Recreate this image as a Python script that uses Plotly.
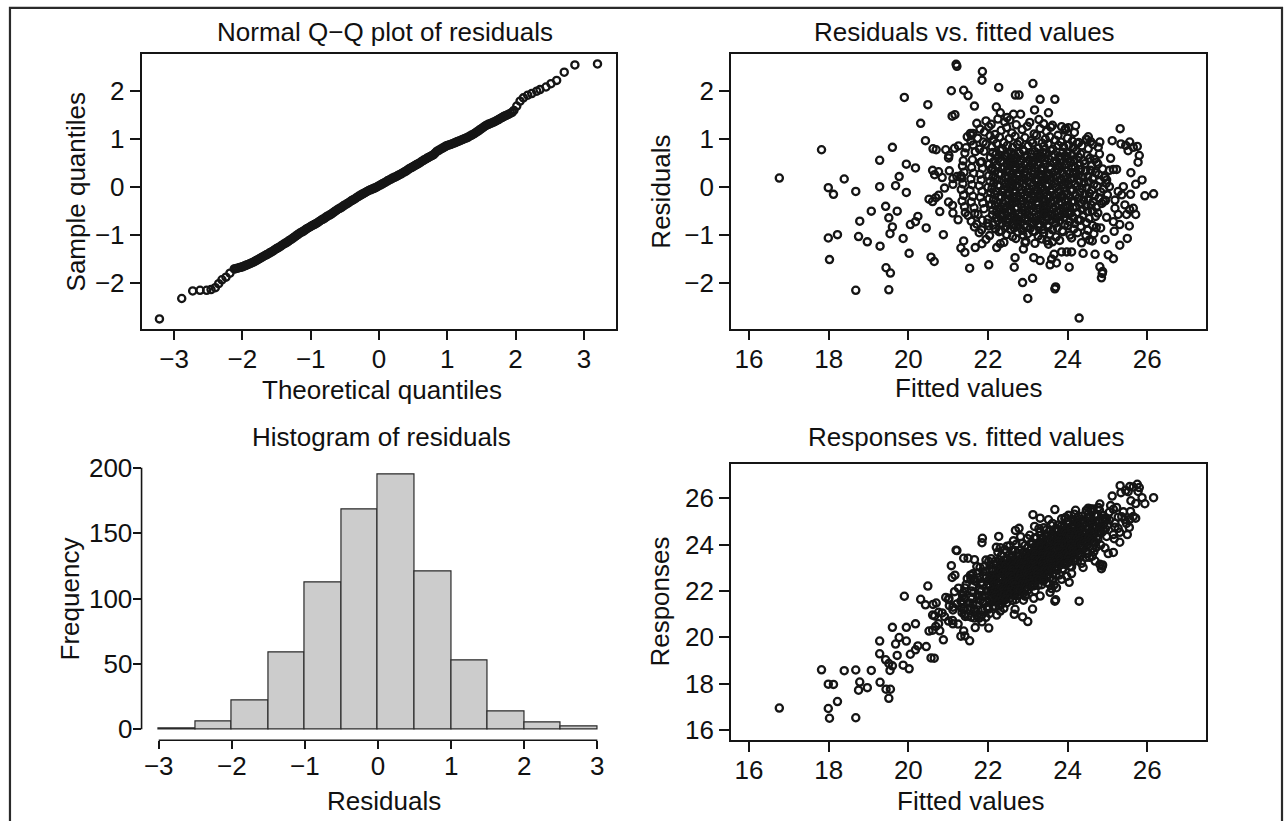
import plotly.graph_objects as go

W, H = 1287, 821

# ---------------- data ----------------
# Normal Q-Q plot: theoretical quantile / sample quantile
qq_low_x = [-3.215, -2.889, -2.728, -2.621, -2.524, -2.460, -2.397, -2.348, -2.300, -2.241, -2.183, -2.120]
qq_low_y = [-2.747, -2.321, -2.164, -2.150, -2.150, -2.136, -2.095, -2.013, -1.931, -1.876, -1.794, -1.704]

qq_mid_x = [
    -2.100, -2.075, -2.050, -2.025, -2.000, -1.975, -1.950, -1.925, -1.900, -1.875,
    -1.850, -1.825, -1.800, -1.775, -1.750, -1.725, -1.700, -1.675, -1.650, -1.625,
    -1.600, -1.575, -1.550, -1.525, -1.500, -1.475, -1.450, -1.425, -1.400, -1.375,
    -1.350, -1.325, -1.300, -1.275, -1.250, -1.225, -1.200, -1.175, -1.150, -1.125,
    -1.100, -1.075, -1.050, -1.025, -1.000, -0.975, -0.950, -0.925, -0.900, -0.875,
    -0.850, -0.825, -0.800, -0.775, -0.750, -0.725, -0.700, -0.675, -0.650, -0.625,
    -0.600, -0.575, -0.550, -0.525, -0.500, -0.475, -0.450, -0.425, -0.400, -0.375,
    -0.350, -0.325, -0.300, -0.275, -0.250, -0.225, -0.200, -0.175, -0.150, -0.125,
    -0.100, -0.075, -0.050, -0.025, 0.000, 0.025, 0.050, 0.075, 0.100, 0.125,
    0.150, 0.175, 0.200, 0.225, 0.250, 0.275, 0.300, 0.325, 0.350, 0.375,
    0.400, 0.425, 0.450, 0.475, 0.500, 0.525, 0.550, 0.575, 0.600, 0.625,
    0.650, 0.675, 0.700, 0.725, 0.750, 0.775, 0.800, 0.825, 0.850, 0.875,
    0.900, 0.925, 0.950, 0.975, 1.000, 1.025, 1.050, 1.075, 1.100, 1.125,
    1.150, 1.175, 1.200, 1.225, 1.250, 1.275, 1.300, 1.325, 1.350, 1.375,
    1.400, 1.425, 1.450, 1.475, 1.500, 1.525, 1.550, 1.575, 1.600, 1.625,
    1.650, 1.675, 1.700, 1.725, 1.750, 1.775, 1.800, 1.825, 1.850, 1.875,
    1.900, 1.925, 1.950, 1.975,
]
qq_mid_y = [
    -1.700, -1.690, -1.680, -1.671, -1.660, -1.646, -1.630, -1.616, -1.600, -1.586,
    -1.570, -1.551, -1.530, -1.511, -1.490, -1.471, -1.450, -1.430, -1.410, -1.391,
    -1.370, -1.351, -1.330, -1.304, -1.280, -1.261, -1.240, -1.214, -1.190, -1.171,
    -1.150, -1.124, -1.100, -1.076, -1.050, -1.024, -1.000, -0.976, -0.950, -0.931,
    -0.910, -0.884, -0.860, -0.841, -0.820, -0.799, -0.780, -0.761, -0.740, -0.714,
    -0.690, -0.671, -0.650, -0.624, -0.600, -0.581, -0.560, -0.534, -0.510, -0.486,
    -0.460, -0.441, -0.420, -0.394, -0.370, -0.351, -0.330, -0.304, -0.280, -0.261,
    -0.240, -0.214, -0.190, -0.171, -0.150, -0.131, -0.110, -0.089, -0.070, -0.056,
    -0.040, -0.024, -0.010, 0.011, 0.030, 0.049, 0.070, 0.089, 0.110, 0.131,
    0.150, 0.169, 0.190, 0.204, 0.220, 0.241, 0.260, 0.279, 0.300, 0.319,
    0.340, 0.366, 0.390, 0.409, 0.430, 0.449, 0.470, 0.489, 0.510, 0.536,
    0.560, 0.579, 0.600, 0.619, 0.640, 0.659, 0.680, 0.716, 0.750, 0.769,
    0.790, 0.809, 0.830, 0.851, 0.870, 0.879, 0.890, 0.906, 0.920, 0.934,
    0.950, 0.964, 0.980, 0.994, 1.010, 1.024, 1.040, 1.061, 1.080, 1.099,
    1.120, 1.146, 1.170, 1.196, 1.220, 1.246, 1.270, 1.291, 1.310, 1.324,
    1.340, 1.354, 1.370, 1.391, 1.410, 1.431, 1.450, 1.471, 1.490, 1.504,
    1.520, 1.541, 1.560, 1.600,
]

qq_high_x = [2.017, 2.065, 2.114, 2.177, 2.236, 2.309, 2.357, 2.445, 2.518, 2.601, 2.712, 2.868, 3.199]
qq_high_y = [1.691, 1.793, 1.862, 1.917, 1.951, 2.000, 2.034, 2.088, 2.157, 2.226, 2.397, 2.548, 2.569]

# Histogram of residuals: left bin edges (width 0.5) and counts
hist_bin_left = [-3.0, -2.5, -2.0, -1.5, -1.0, -0.5, 0.0, 0.5, 1.0, 1.5, 2.0, 2.5]
hist_counts = [1, 6, 22, 59, 112, 168, 195, 121, 53, 14, 5, 2]

# Fitted values / residuals, sparse points on the left
fit_left = [
    16.76, 17.82, 18.39, 17.99, 18.12, 18.68, 18.22, 17.99, 18.02, 18.68,
    21.20, 21.22, 19.90, 21.08, 21.39, 21.50, 20.49, 21.66, 20.31, 21.10,
    21.17, 21.56, 21.58, 20.43, 19.60, 19.28, 19.95, 20.18, 20.62, 20.70,
    20.94, 21.01, 21.02, 21.16, 21.26, 20.61, 20.66, 20.85, 20.76, 21.03,
    21.12, 21.22, 21.32, 19.77, 19.28, 19.68, 19.95, 20.91, 21.12, 20.52,
    20.61, 20.69, 20.76, 21.01, 21.11, 21.12, 21.25, 19.43, 19.07, 19.72,
    19.51, 18.78, 20.24, 20.18, 20.05, 20.79, 19.60, 19.54, 20.45, 18.75,
    18.97, 19.87, 19.29, 20.88, 21.39, 21.32, 21.42, 20.02, 20.57, 20.65,
    19.44, 19.55, 21.54, 19.51,
]
res_left = [
    0.19, 0.78, 0.17, -0.01, -0.15, -0.09, -0.99, -1.06, -1.51, -2.15,
    2.56, 2.52, 1.87, 2.01, 2.02, 1.91, 1.72, 1.69, 1.33, 1.48,
    1.51, 1.12, 1.08, 0.97, 0.83, 0.56, 0.48, 0.40, 0.80, 0.78,
    0.78, 0.61, 0.66, 0.81, 0.86, 0.35, 0.26, 0.20, 0.32, 0.34,
    0.18, 0.22, 0.24, 0.22, 0.01, 0.03, -0.11, -0.02, 0.06, -0.25,
    -0.30, -0.22, -0.17, -0.31, -0.38, -0.54, -0.68, -0.40, -0.50, -0.50,
    -0.64, -0.71, -0.61, -0.72, -0.78, -0.51, -0.83, -0.97, -0.85, -1.03,
    -1.14, -1.07, -1.23, -0.99, -1.12, -1.27, -1.36, -1.38, -1.46, -1.55,
    -1.68, -1.79, -1.69, -2.14,
]

# sparse points on the right
fit_right = [
    25.32, 25.12, 25.34, 25.46, 25.56, 25.65, 25.75, 25.52, 25.80, 25.77,
    24.81, 24.77, 24.80, 24.73, 25.15, 25.05, 25.23, 25.59, 25.87, 25.71,
    25.94, 26.16, 25.05, 25.27, 25.40, 25.36, 25.58, 25.19, 25.44, 25.65,
    25.71, 25.56, 25.48, 25.19, 25.27, 24.98, 25.15, 25.31, 25.55, 25.17,
    24.83, 24.94, 25.50, 25.31, 25.02, 25.15, 24.69, 24.81, 24.88, 24.85,
    24.87, 24.94, 24.98, 24.90, 25.08,
]
res_right = [
    1.22, 0.97, 0.90, 0.87, 0.94, 0.83, 0.85, 0.76, 0.66, 0.52,
    0.94, 0.83, 0.69, 0.52, 0.37, 0.35, 0.37, 0.30, 0.15, 0.06,
    -0.18, -0.14, 0.01, -0.09, 0.01, -0.16, -0.15, -0.27, -0.37, -0.44,
    -0.57, -0.47, -0.57, -0.44, -0.57, -0.63, -0.72, -0.78, -0.81, -0.92,
    -0.85, -1.09, -1.07, -1.21, -1.41, -1.49, -1.40, -1.66, -1.76, -1.89,
    -1.80, 0.21, 0.15, -0.30, 0.60,
]

# sparse points above and below the main cloud
fit_fringe = [
    21.86, 21.85, 22.27, 23.13, 22.69, 22.78, 23.31, 23.68, 22.21, 22.31,
    23.17, 23.52, 22.64, 22.82, 22.02, 22.66, 22.87, 23.12, 23.00, 23.68,
    23.70, 24.29, 22.68, 23.15, 23.31, 23.60, 23.85, 23.98, 24.10, 24.04,
    24.39, 21.68, 21.85, 22.22, 22.31, 22.89, 22.93, 23.48, 23.52, 23.56,
    24.52, 24.48, 24.20, 22.48, 23.95, 23.66, 23.72,
]
res_fringe = [
    2.41, 2.23, 2.08, 2.16, 1.92, 1.92, 1.83, 1.83, 1.67, 1.55,
    1.61, 1.55, 1.52, 1.52, -1.62, -1.67, -1.99, -1.90, -2.32, -2.12,
    -2.08, -2.73, -1.47, -1.47, -1.53, -1.50, -1.35, -1.35, -1.35, -1.67,
    -1.38, -1.26, -1.18, -1.26, -1.18, -1.29, -1.16, -1.12, -1.19, -1.62,
    1.05, 0.99, 1.28, 1.45, 1.22, -1.40, -1.58,
]

# dense central cloud (estimated positions, one line per horizontal strip)
fit_core = [
    21.72, 21.95, 22.08, 22.25, 22.42, 22.55, 22.71, 23.05, 23.28, 23.40, 23.62, 23.85, 24.02,
    21.62, 21.80, 21.91, 22.02, 22.18, 22.33, 22.47, 22.60, 22.86, 22.99, 23.16, 23.31, 23.47, 23.58, 23.76, 23.93, 24.17,
    21.48, 21.57, 21.74, 21.88, 22.05, 22.14, 22.29, 22.40, 22.53, 22.68, 22.80, 22.93, 23.08, 23.22, 23.36, 23.44, 23.55, 23.69, 23.83, 24.00, 24.12, 24.28, 24.47, 24.58,
    21.45, 21.63, 21.79, 21.95, 22.10, 22.22, 22.36, 22.49, 22.62, 22.74, 22.88, 23.01, 23.12, 23.27, 23.40, 23.51, 23.63, 23.77, 23.90, 24.03, 24.15, 24.24, 24.36, 24.52, 24.64,
    21.42, 22.46, 21.68, 23.24, 21.90, 23.94, 22.12, 22.20, 22.31, 22.42, 22.50, 22.58, 22.67, 22.79, 22.90, 22.98, 23.09, 23.18, 23.29, 23.37, 23.46, 23.58, 23.67, 23.79, 23.88, 23.99, 24.11, 24.22, 24.33, 24.49,
    21.38, 22.57, 21.61, 23.37, 21.84, 24.02, 22.06, 22.15, 22.26, 22.35, 22.45, 22.54, 22.63, 22.72, 22.83, 22.92, 23.03, 23.13, 23.22, 23.33, 23.42, 23.52, 23.61, 23.72, 23.83, 23.94, 24.06, 24.16, 24.27, 24.40, 24.56, 24.68,
    21.36, 22.64, 21.59, 23.11, 21.81, 23.80, 22.03, 22.11, 22.22, 22.32, 22.41, 22.49, 22.59, 22.68, 22.77, 22.86, 22.95, 23.06, 23.15, 23.25, 23.35, 23.45, 23.55, 23.65, 23.75, 23.86, 23.97, 24.08, 24.19, 24.31, 24.43, 24.60, 24.76,
    21.40, 22.50, 21.64, 23.33, 21.86, 24.15, 22.08, 22.17, 22.27, 22.37, 22.46, 22.55, 22.64, 22.73, 22.82, 22.91, 23.00, 23.10, 23.19, 23.29, 23.38, 23.48, 23.57, 23.67, 23.77, 23.88, 23.99, 24.10, 24.21, 24.33, 24.45, 24.58, 24.70, 24.88,
    21.34, 22.75, 21.57, 23.49, 21.80, 24.09, 22.02, 22.13, 22.23, 22.33, 22.43, 22.52, 22.61, 22.70, 22.79, 22.88, 22.97, 23.07, 23.16, 23.26, 23.36, 23.45, 23.54, 23.64, 23.74, 23.84, 23.95, 24.05, 24.16, 24.27, 24.38, 24.51, 24.63, 24.78, 24.92,
    21.37, 22.57, 21.60, 23.22, 21.83, 23.91, 22.05, 22.15, 22.25, 22.35, 22.44, 22.53, 22.62, 22.71, 22.80, 22.89, 22.99, 23.08, 23.18, 23.27, 23.37, 23.46, 23.56, 23.66, 23.76, 23.86, 23.96, 24.07, 24.18, 24.29, 24.41, 24.53, 24.66, 24.81, 24.97,
    21.33, 22.62, 21.55, 23.37, 21.78, 24.07, 22.00, 22.10, 22.20, 22.30, 22.40, 22.49, 22.58, 22.67, 22.76, 22.85, 22.94, 23.04, 23.13, 23.23, 23.32, 23.42, 23.51, 23.61, 23.71, 23.81, 23.92, 24.02, 24.13, 24.24, 24.36, 24.48, 24.61, 24.74, 24.90,
    21.39, 22.51, 21.62, 23.15, 21.85, 23.83, 22.07, 22.17, 22.27, 22.37, 22.46, 22.55, 22.64, 22.73, 22.82, 22.91, 23.01, 23.10, 23.20, 23.29, 23.39, 23.48, 23.58, 23.68, 23.78, 23.88, 23.98, 24.09, 24.20, 24.31, 24.43, 24.55, 24.68, 24.83, 25.00,
    21.35, 22.66, 21.58, 23.41, 21.81, 24.11, 22.03, 22.14, 22.24, 22.34, 22.43, 22.52, 22.61, 22.70, 22.79, 22.88, 22.98, 23.07, 23.17, 23.26, 23.36, 23.45, 23.55, 23.65, 23.75, 23.85, 23.95, 24.06, 24.17, 24.28, 24.40, 24.52, 24.64, 24.79, 24.95,
    21.41, 22.60, 21.65, 23.26, 21.87, 23.94, 22.09, 22.19, 22.29, 22.38, 22.47, 22.56, 22.65, 22.74, 22.83, 22.92, 23.02, 23.11, 23.21, 23.30, 23.40, 23.49, 23.59, 23.69, 23.79, 23.89, 24.00, 24.11, 24.22, 24.34, 24.46, 24.59, 24.72, 24.86,
    21.43, 22.54, 21.67, 23.38, 21.90, 24.08, 22.12, 22.22, 22.32, 22.41, 22.50, 22.59, 22.68, 22.77, 22.86, 22.95, 23.05, 23.14, 23.24, 23.33, 23.43, 23.52, 23.62, 23.72, 23.82, 23.92, 24.03, 24.14, 24.25, 24.37, 24.50, 24.62, 24.76,
    21.50, 22.71, 21.75, 23.47, 22.00, 22.11, 22.21, 22.31, 22.40, 22.49, 22.58, 22.67, 22.76, 22.85, 22.94, 23.04, 23.13, 23.23, 23.32, 23.42, 23.51, 23.61, 23.71, 23.81, 23.91, 24.02, 24.13, 24.26, 24.39, 24.54, 24.70,
    21.58, 21.72, 21.86, 21.99, 22.13, 22.25, 22.36, 22.46, 22.55, 22.64, 22.73, 22.82, 22.91, 23.01, 23.10, 23.20, 23.30, 23.40, 23.50, 23.60, 23.70, 23.81, 23.93, 24.05, 24.18, 24.32, 24.47, 24.63,
    21.66, 21.84, 22.02, 22.19, 22.33, 22.45, 22.56, 22.66, 22.76, 22.86, 22.96, 23.06, 23.17, 23.28, 23.39, 23.50, 23.62, 23.74, 23.87, 24.01, 24.16, 24.33, 24.51, 24.72,
    21.78, 22.04, 22.28, 22.47, 22.62, 22.75, 22.88, 23.00, 23.13, 23.26, 23.40, 23.55, 23.71, 23.88, 24.06, 24.25, 24.46, 24.66,
    21.95, 22.40, 22.70, 22.95, 23.18, 23.35, 23.62, 23.80, 24.10, 24.35, 24.55, 24.62,
]
res_core = [
    1.33, 1.38, 1.31, 1.42, 1.36, 1.40, 1.30, 1.35, 1.41, 1.32, 1.29, 1.26, 1.24,
    1.12, 1.21, 1.15, 1.26, 1.10, 1.18, 1.24, 1.13, 1.20, 1.27, 1.11, 1.22, 1.16, 1.25, 1.08, 1.19, 1.14,
    1.05, 0.96, 1.02, 0.94, 1.07, 0.99, 1.04, 0.93, 1.01, 1.06, 0.95, 1.03, 0.97, 1.08, 0.92, 1.00, 1.05, 0.98, 0.94, 1.02, 0.96, 0.93, 1.00, 0.95,
    0.82, 0.88, 0.79, 0.90, 0.84, 0.91, 0.80, 0.87, 0.83, 0.89, 0.78, 0.86, 0.92, 0.81, 0.85, 0.90, 0.79, 0.87, 0.84, 0.88, 0.83, 0.91, 0.86, 0.80, 0.89,
    0.71, 0.66, 0.74, 0.69, 0.75, 0.65, 0.72, 0.68, 0.76, 0.64, 0.70, 0.73, 0.67, 0.71, 0.75, 0.66, 0.69, 0.74, 0.65, 0.72, 0.70, 0.76, 0.68, 0.64, 0.73, 0.71, 0.67, 0.75, 0.69, 0.66,
    0.55, 0.61, 0.57, 0.63, 0.53, 0.59, 0.62, 0.54, 0.60, 0.56, 0.64, 0.52, 0.58, 0.61, 0.55, 0.63, 0.57, 0.53, 0.60, 0.62, 0.56, 0.59, 0.64, 0.54, 0.58, 0.61, 0.52, 0.57, 0.63, 0.55, 0.60, 0.58,
    0.44, 0.49, 0.41, 0.47, 0.51, 0.43, 0.48, 0.40, 0.46, 0.52, 0.42, 0.45, 0.50, 0.43, 0.47, 0.41, 0.49, 0.44, 0.51, 0.46, 0.40, 0.48, 0.42, 0.50, 0.45, 0.43, 0.47, 0.52, 0.41, 0.46, 0.49, 0.44, 0.48,
    0.31, 0.37, 0.29, 0.35, 0.39, 0.30, 0.36, 0.33, 0.28, 0.38, 0.32, 0.34, 0.40, 0.29, 0.36, 0.31, 0.37, 0.33, 0.39, 0.28, 0.35, 0.30, 0.38, 0.32, 0.36, 0.29, 0.34, 0.40, 0.31, 0.37, 0.33, 0.35, 0.30, 0.38,
    0.19, 0.25, 0.17, 0.23, 0.27, 0.18, 0.24, 0.21, 0.16, 0.26, 0.20, 0.22, 0.28, 0.17, 0.24, 0.19, 0.25, 0.21, 0.27, 0.16, 0.23, 0.18, 0.26, 0.20, 0.24, 0.17, 0.22, 0.28, 0.19, 0.25, 0.21, 0.23, 0.18, 0.26, 0.20,
    0.07, 0.13, 0.05, 0.11, 0.15, 0.06, 0.12, 0.09, 0.04, 0.14, 0.08, 0.10, 0.16, 0.05, 0.12, 0.07, 0.13, 0.09, 0.15, 0.04, 0.11, 0.06, 0.14, 0.08, 0.12, 0.05, 0.10, 0.16, 0.07, 0.13, 0.09, 0.11, 0.06, 0.14, 0.08,
    -0.05, 0.01, -0.07, -0.01, 0.03, -0.06, 0.00, -0.03, -0.08, 0.02, -0.04, -0.02, 0.04, -0.07, 0.00, -0.05, 0.01, -0.03, 0.03, -0.08, -0.01, -0.06, 0.02, -0.04, 0.00, -0.07, -0.02, 0.04, -0.05, 0.01, -0.03, -0.01, -0.06, 0.02, -0.04,
    -0.17, -0.11, -0.19, -0.13, -0.09, -0.18, -0.12, -0.15, -0.20, -0.10, -0.16, -0.14, -0.08, -0.19, -0.12, -0.17, -0.11, -0.15, -0.09, -0.20, -0.13, -0.18, -0.10, -0.16, -0.12, -0.19, -0.14, -0.08, -0.17, -0.11, -0.15, -0.13, -0.18, -0.10, -0.16,
    -0.29, -0.23, -0.31, -0.25, -0.21, -0.30, -0.24, -0.27, -0.32, -0.22, -0.28, -0.26, -0.20, -0.31, -0.24, -0.29, -0.23, -0.27, -0.21, -0.32, -0.25, -0.30, -0.22, -0.28, -0.24, -0.31, -0.26, -0.20, -0.29, -0.23, -0.27, -0.25, -0.30, -0.22, -0.28,
    -0.41, -0.35, -0.43, -0.37, -0.33, -0.42, -0.36, -0.39, -0.44, -0.34, -0.40, -0.38, -0.32, -0.43, -0.36, -0.41, -0.35, -0.39, -0.33, -0.44, -0.37, -0.42, -0.34, -0.40, -0.36, -0.43, -0.38, -0.32, -0.41, -0.35, -0.39, -0.37, -0.42, -0.34,
    -0.53, -0.47, -0.55, -0.49, -0.45, -0.54, -0.48, -0.51, -0.56, -0.46, -0.52, -0.50, -0.44, -0.55, -0.48, -0.53, -0.47, -0.51, -0.45, -0.56, -0.49, -0.54, -0.46, -0.52, -0.48, -0.55, -0.50, -0.44, -0.53, -0.47, -0.51, -0.49, -0.54,
    -0.59, -0.65, -0.57, -0.63, -0.67, -0.58, -0.64, -0.61, -0.56, -0.66, -0.60, -0.62, -0.68, -0.57, -0.64, -0.59, -0.65, -0.61, -0.67, -0.56, -0.63, -0.58, -0.66, -0.60, -0.64, -0.57, -0.62, -0.68, -0.59, -0.65, -0.61,
    -0.71, -0.77, -0.69, -0.75, -0.79, -0.70, -0.76, -0.73, -0.68, -0.78, -0.72, -0.74, -0.80, -0.69, -0.76, -0.71, -0.77, -0.73, -0.79, -0.68, -0.75, -0.70, -0.78, -0.72, -0.76, -0.69, -0.74, -0.80,
    -0.83, -0.89, -0.81, -0.87, -0.91, -0.82, -0.88, -0.85, -0.80, -0.90, -0.84, -0.86, -0.92, -0.81, -0.88, -0.83, -0.89, -0.85, -0.91, -0.80, -0.87, -0.82, -0.90, -0.84,
    -0.95, -1.01, -0.93, -0.99, -1.03, -0.94, -1.00, -0.97, -0.92, -1.02, -0.96, -0.98, -1.04, -0.93, -1.00, -0.95, -1.01, -0.97,
    -1.09, -1.15, -1.07, -1.13, -1.17, -1.08, -1.14, -1.11, -1.06, -1.16, -1.10, -1.12,
]

tick_qq_x = [-3, -2, -1, 0, 1, 2, 3]
tick_resid_y = [-2, -1, 0, 1, 2]
tick_fitted = [16, 18, 20, 22, 24, 26]
tick_freq = [0, 50, 100, 150, 200]

# ---------------- build ----------------
def paired(a, b):
    n = min(len(a), len(b))
    return list(a[:n]), list(b[:n])


qq_x, qq_y = paired(qq_low_x + qq_mid_x + qq_high_x, qq_low_y + qq_mid_y + qq_high_y)
fitted, residuals = paired(fit_left + fit_right + fit_fringe + fit_core,
                           res_left + res_right + res_fringe + res_core)
responses = [round(f + r, 3) for f, r in zip(fitted, residuals)]

INK = '#151515'
FONT = 'Liberation Sans, Arial, Helvetica, sans-serif'
FS = 26
marker = dict(symbol='circle-open', size=7.2, color=INK, line=dict(width=2.3, color=INK))

fig = go.Figure()
fig.add_trace(go.Scatter(x=qq_x, y=qq_y, mode='markers', marker=marker,
                         xaxis='x', yaxis='y', showlegend=False))
fig.add_trace(go.Scatter(x=fitted, y=residuals, mode='markers', marker=marker,
                         xaxis='x2', yaxis='y2', showlegend=False))
fig.add_trace(go.Bar(x=hist_bin_left, y=hist_counts, width=0.5, offset=0,
                     marker=dict(color='#cccccc', line=dict(color='#2a2a2a', width=1.2)),
                     xaxis='x3', yaxis='y3', showlegend=False))
fig.add_trace(go.Scatter(x=fitted, y=responses, mode='markers', marker=marker,
                         xaxis='x4', yaxis='y4', showlegend=False))


def dx(p0, p1):
    return [p0 / W, p1 / W]


def dy(top, bottom):
    return [1 - bottom / H, 1 - top / H]


tickfont = dict(family=FONT, size=FS, color='#111111')
box = dict(showline=True, mirror=True, linecolor=INK, linewidth=1.6, ticks='outside',
           ticklen=10, tickwidth=1.5, tickcolor=INK, showgrid=False, zeroline=False,
           tickfont=tickfont, fixedrange=True)
free = dict(showline=False, ticks='outside', ticklen=8, tickwidth=1.5, tickcolor=INK,
            showgrid=False, zeroline=False, tickfont=tickfont, fixedrange=True)

fig.update_layout(
    width=W, height=H, margin=dict(l=0, r=0, t=0, b=0),
    paper_bgcolor='white', plot_bgcolor='white', showlegend=False,
    bargap=0,
    xaxis=dict(box, domain=dx(142, 618.4), range=[-3.477, 3.477], tickvals=tick_qq_x,
               anchor='y', ticklabelstandoff=-4),
    yaxis=dict(box, domain=dy(49.5, 327.5), range=[-2.947, 2.778], tickvals=tick_resid_y, anchor='x'),
    xaxis2=dict(box, domain=dx(733.3, 1210.2), range=[15.547, 27.487], tickvals=tick_fitted,
                anchor='y2', ticklabelstandoff=-4),
    yaxis2=dict(box, domain=dy(49.5, 327.5), range=[-2.947, 2.778], tickvals=tick_resid_y, anchor='x2'),
    xaxis3=dict(free, domain=dx(142, 602), range=[-3.235, 3.038], tickvals=tick_qq_x,
                anchor='y3', ticklabelstandoff=-5),
    yaxis3=dict(free, domain=dy(458, 744.3), range=[-8.3, 207.8], tickvals=tick_freq,
                anchor='x3', ticklen=8, ticklabelstandoff=-5),
    xaxis4=dict(box, domain=dx(733.3, 1210.2), range=[15.547, 27.487], tickvals=tick_fitted,
                anchor='y4', ticklabelstandoff=-4),
    yaxis4=dict(box, domain=dy(465, 744), range=[15.574, 27.46], tickvals=tick_fitted, anchor='x4'),
)

# histogram axis lines (R style, detached from the bars) and outer frame
shapes = [
    dict(type='line', xref='x3', yref='y3 domain', x0=-3, x1=3, y0=0, y1=0,
         line=dict(color=INK, width=1.6)),
    dict(type='line', xref='x3 domain', yref='y3', x0=0, x1=0, y0=0, y1=200,
         line=dict(color=INK, width=1.6)),
    dict(type='path', xref='paper', yref='paper',
         path=f'M {10/W} -0.01 L {10/W} {1-3/H} L {1286/W} {1-3/H} L {1286/W} -0.01',
         line=dict(color='#2a2a2a', width=2.2)),
]
fig.update_layout(shapes=shapes)

txt = dict(family=FONT, size=FS, color='#111111')


def ann(text, x, y, angle=0):
    return dict(text=text, x=x / W, y=1 - y / H, xref='paper', yref='paper', showarrow=False,
                xanchor='center', yanchor='middle', textangle=angle, font=txt)


annotations = [
    ann('Normal Q\u2212Q plot of residuals', 386, 27),
    ann('Residuals vs. fitted values', 968, 27),
    ann('Histogram of residuals', 383, 437),
    ann('Responses vs. fitted values', 970, 437),
    ann('Theoretical quantiles', 383, 390),
    ann('Fitted values', 972, 388),
    ann('Residuals', 385, 806),
    ann('Fitted values', 974, 806),
    ann('Sample quantiles', 76, 189, -90),
    ann('Residuals', 663, 189, -90),
    ann('Frequency', 70, 601, -90),
    ann('Responses', 662, 604, -90),
]
fig.update_layout(annotations=annotations)

fig.write_html('out.html')
